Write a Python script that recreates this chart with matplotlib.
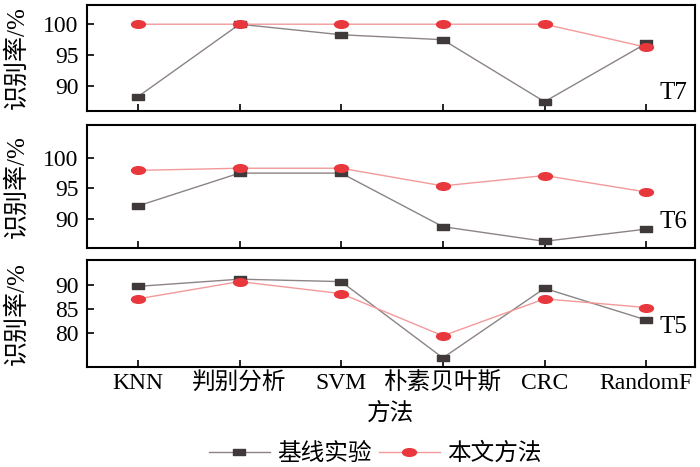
import matplotlib
matplotlib.use("Agg")
import matplotlib.pyplot as plt
import numpy as np
from matplotlib.path import Path

plt.rcParams['font.family'] = ['Liberation Serif', 'Noto Sans CJK SC']
plt.rcParams['mathtext.fontset'] = 'stix'

methods = ["KNN", "判别分析", "SVM", "朴素贝叶斯", "CRC", "RandomF"]
panel_names = ["T7", "T6", "T5"]
baseline = {
    "T7": [88.3, 100.0, 98.3, 97.5, 87.5, 96.9],
    "T6": [92.1, 97.5, 97.5, 88.7, 86.3, 88.3],
    "T5": [89.7, 91.2, 90.7, 74.8, 89.3, 82.7],
}
ours = {
    "T7": [100.0, 100.0, 100.0, 100.0, 100.0, 96.3],
    "T6": [97.95, 98.3, 98.3, 95.4, 97.1, 94.4],
    "T5": [87.1, 90.7, 88.2, 79.4, 87.1, 85.3],
}
yticks = {"T7": [90, 95, 100], "T6": [90, 95, 100], "T5": [80, 85, 90]}
ylims = {"T7": (86.0, 103.1), "T6": (85.2, 105.4), "T5": (72.9, 95.2)}
legend_labels = ["基线实验", "本文方法"]
xlabel = "方法"
ylabel = "识别率/%"

W, H = 700, 467
fig = plt.figure(figsize=(7, 4.67), dpi=100)

# panel pixel extents (top, bottom)
extents = {"T7": (5, 111), "T6": (125, 248), "T5": (260, 367)}
tag_y = {"T7": 0.07, "T6": 0.12, "T5": 0.27}
left_px, right_px = 87, 695

rect = Path([(-1, -0.5), (1, -0.5), (1, 0.5), (-1, 0.5), (-1, -0.5)],
            [Path.MOVETO, Path.LINETO, Path.LINETO, Path.LINETO, Path.CLOSEPOLY])
circ = Path.unit_circle()
ell = Path(circ.vertices * np.array([1.0, 0.55]), circ.codes)

c_base_line = "#8c8484"
c_base_mk = "#3f3a39"
c_our_line = "#f29a9a"
c_our_mk = "#e8383d"

x = np.arange(len(methods))
for name in panel_names:
    top, bot = extents[name]
    ax = fig.add_axes([left_px / W, 1 - bot / H, (right_px - left_px) / W, (bot - top) / H])
    l1, = ax.plot(x, baseline[name], color=c_base_line, lw=1.0, marker=rect, ms=9,
                  mfc=c_base_mk, mec=c_base_mk, label=legend_labels[0], zorder=3)
    l2, = ax.plot(x, ours[name], color=c_our_line, lw=1.0, marker=ell, ms=10,
                  mfc=c_our_mk, mec=c_our_mk, label=legend_labels[1], zorder=4)
    ax.set_xlim(-0.5, 5.48)
    ax.set_ylim(*ylims[name])
    ax.set_yticks(yticks[name])
    ax.set_xticks(x)
    ax.tick_params(direction='in', length=5, width=1.2, labelsize=17, pad=6)
    for s in ax.spines.values():
        s.set_linewidth(1.5)
    ax.set_ylabel(ylabel, fontsize=18)
    ax.yaxis.set_label_coords(-0.096, 0.5)
    ax.text(0.988, tag_y[name], name, transform=ax.transAxes, ha='right', va='bottom',
            fontsize=18)
    if name != "T5":
        ax.set_xticklabels([])
    else:
        ax.set_xticklabels(methods, fontsize=17)
        ax.tick_params(axis='x', pad=4)
        ax.set_xlabel(xlabel, fontsize=17)
        ax.xaxis.set_label_coords(0.5, -0.33)

fig.legend([l1, l2], legend_labels, loc='center', bbox_to_anchor=(0.536, 1 - 454 / H),
           ncol=2, frameon=False, fontsize=17, handlelength=2.6, columnspacing=0.3,
           handletextpad=0.3)

fig.savefig("out.png", dpi=100)
